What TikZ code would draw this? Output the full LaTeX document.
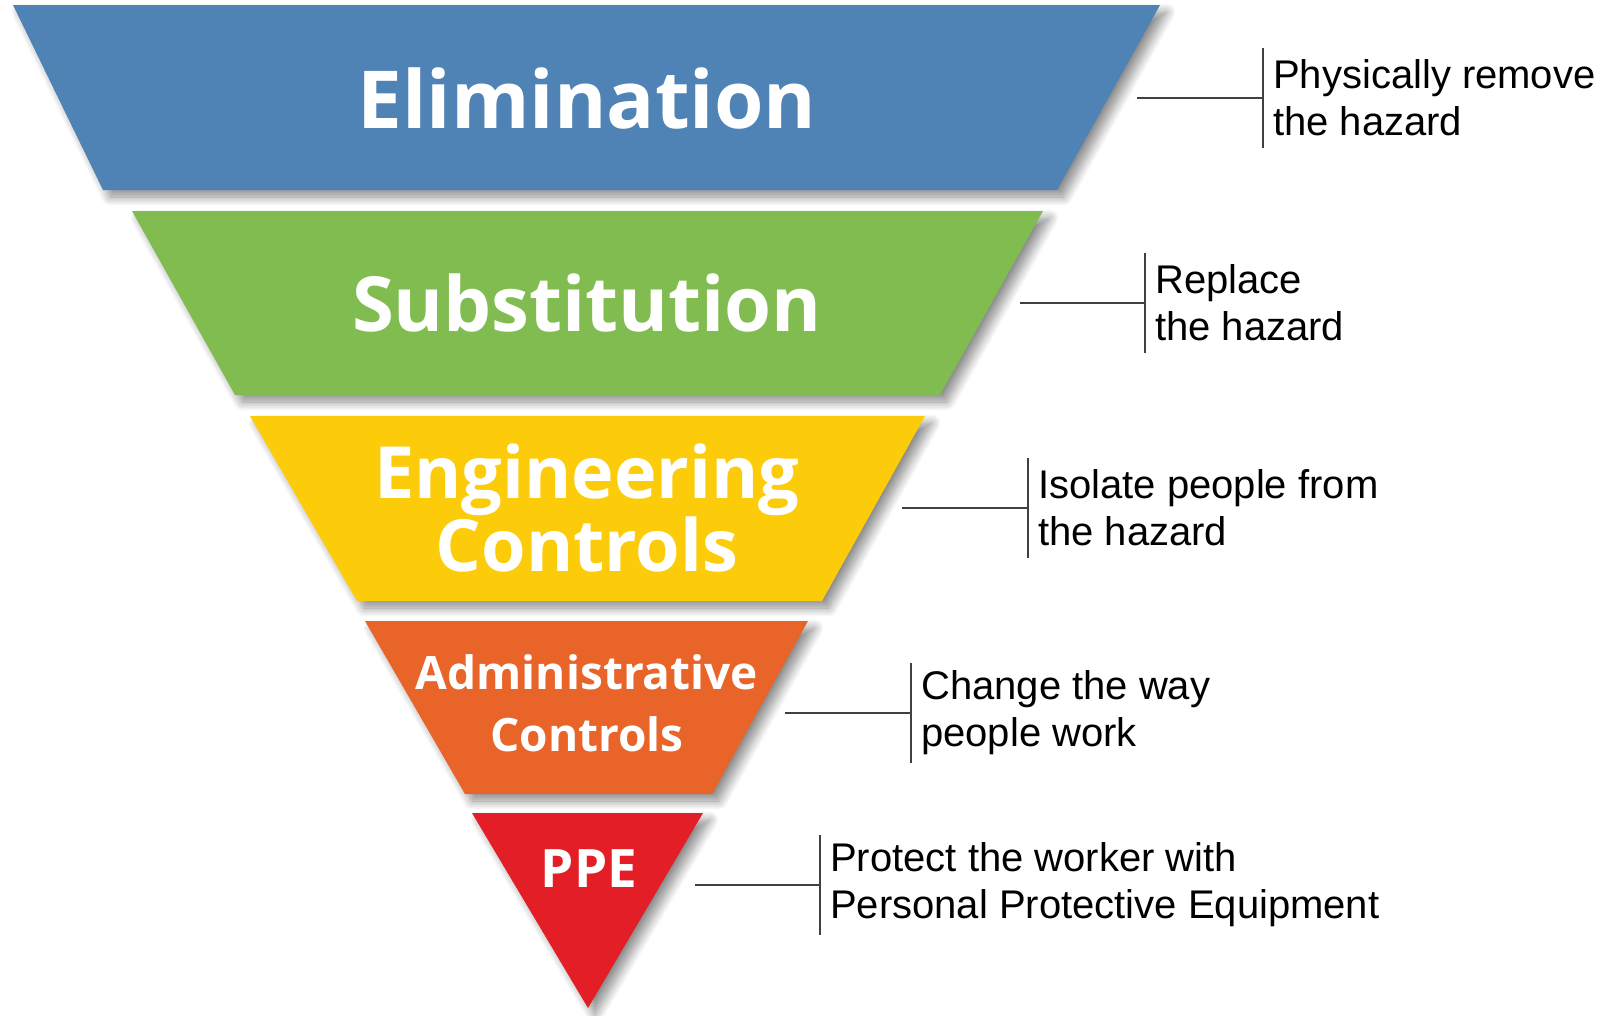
\documentclass[tikz,border=0pt]{standalone}
\usepackage{fontspec}
\setmainfont{Liberation Sans}
\newfontfamily\bandfont{Open Sans}
\usepackage{tikz}
\usetikzlibrary{calc,shadows.blur}
\definecolor{elimblue}{RGB}{79,131,181}
\definecolor{substgreen}{RGB}{129,188,80}
\definecolor{enggold}{RGB}{252,204,10}
\definecolor{adminorange}{RGB}{233,100,40}
\definecolor{ppered}{RGB}{228,30,38}

\begin{document}
\begin{tikzpicture}[x=1pt,y=-1pt,
  band/.style={blur shadow={shadow xshift=7pt,shadow yshift=-7pt,shadow blur radius=9pt,shadow blur steps=12,shadow opacity=45}},
  bandlabel/.style={text=white,align=center},
  desc/.style={anchor=west,align=left,inner xsep=10pt,font=\fontsize{40}{47}\selectfont},
  tick/.style={line width=1.6pt,draw=black!75}]
\useasboundingbox (0,0) rectangle (1614,1015);
\fill[elimblue,band] (13,5) -- (1160,5) -- (1057,190) -- (103,190) -- cycle;
\fill[substgreen,band] (132,211) -- (1043,211) -- (940,395) -- (235,395) -- cycle;
\fill[enggold,band] (250,416) -- (925,416) -- (822,601) -- (357,601) -- cycle;
\fill[adminorange,band] (365,621) -- (808,621) -- (712,794) -- (465,794) -- cycle;
\fill[ppered,band] (472,813) -- (703,813) -- (588,1008) -- cycle;
\node[bandlabel,font=\bandfont\bfseries\fontsize{80}{80}\selectfont] (elim) at (587,98) {Elimination};
\node[bandlabel,font=\bandfont\bfseries\fontsize{76}{80}\selectfont] (subst) at (587,303) {Substitution};
\node[bandlabel,font=\bandfont\bfseries\fontsize{72}{64}\selectfont] (eng) at (587,508) {Engineering\\Controls};
\node[bandlabel,font=\bandfont\bfseries\fontsize{46}{62}\selectfont] (admin) at (587,703) {Administrative\\Controls};
\node[bandlabel,font=\bandfont\bfseries\fontsize{53}{60}\selectfont] (ppe) at (589,869) {PPE};
\coordinate (e1) at (1137,98);
\coordinate (e2) at (1020,303);
\coordinate (e3) at (902,508);
\coordinate (e4) at (785,713);
\coordinate (e5) at (695,885);
\node[desc] (d1) at (1263,98) {Physically remove\\the hazard};
\node[desc] (d2) at (1145,303) {Replace\\the hazard};
\node[desc] (d3) at (1028,508) {Isolate people from\\the hazard};
\node[desc] (d4) at (911,713) {Change the way\\people work};
\node[desc] (d5) at (820,885) {Protect the worker with\\Personal Protective Equipment};
\draw[tick] (e1) -- (d1.west) ++(0,-50) -- ++(0,100);
\draw[tick] (e2) -- (d2.west) ++(0,-50) -- ++(0,100);
\draw[tick] (e3) -- (d3.west) ++(0,-50) -- ++(0,100);
\draw[tick] (e4) -- (d4.west) ++(0,-50) -- ++(0,100);
\draw[tick] (e5) -- (d5.west) ++(0,-50) -- ++(0,100);
\end{tikzpicture}
\end{document}
